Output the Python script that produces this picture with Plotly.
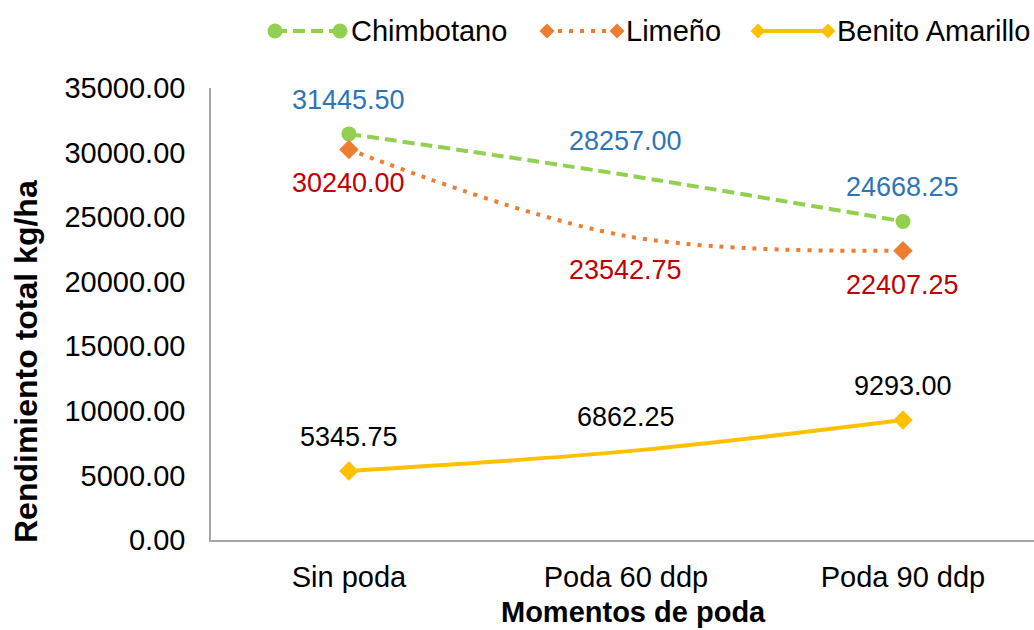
import plotly.graph_objects as go

categories = ["Sin poda", "Poda 60 ddp", "Poda 90 ddp"]
chimbotano = [31445.50, 28257.00, 24668.25]
limeno = [30240.00, 23542.75, 22407.25]
benito = [5345.75, 6862.25, 9293.00]
y_ticks = [0, 5000, 10000, 15000, 20000, 25000, 30000, 35000]

FONT = "Liberation Sans, Arial, sans-serif"

W, H = 1034, 630
L, R, T, B = 211, 0, 88, 90
PW, PH = W - L - R, H - T - B


def px(x):
    return (x - L) / PW


def py(y):
    return (H - B - y) / PH


series = [
    dict(name="Chimbotano", y=chimbotano, color="#92D050", dash="12px,6px",
         symbol="circle", label_color="#2E75B6", shift=34,
         leg=(275, 340, 349)),
    dict(name="Limeño", y=limeno, color="#ED7D31", dash="4px,7px",
         symbol="diamond", label_color="#C00000", shift=-34,
         leg=(547, 617, 624)),
    dict(name="Benito Amarillo", y=benito, color="#FFC000", dash="solid",
         symbol="diamond", label_color="#000000", shift=34,
         leg=(758, 828, 835)),
]

fig = go.Figure()
annotations = []
shapes = []
LEG_Y = 31
for s in series:
    n = len(s["y"])
    sizes = [15 if i in (0, n - 1) else 0 for i in range(n)]
    fig.add_trace(go.Scatter(
        x=categories, y=s["y"], name=s["name"], mode="lines+markers",
        line=dict(color=s["color"], width=4, dash=s["dash"], shape="spline", smoothing=1),
        marker=dict(symbol=s["symbol"], size=sizes, color=s["color"], opacity=1,
                    line=dict(width=0)),
        showlegend=False,
    ))
    for c, v in zip(categories, s["y"]):
        annotations.append(dict(
            x=c, y=v, xref="x", yref="y", text=f"{v:.2f}", showarrow=False,
            yshift=s["shift"], font=dict(family=FONT, size=27, color=s["label_color"]),
        ))
    # custom legend entry (styling only)
    x0, x1, xt = s["leg"]
    shapes.append(dict(type="line", xref="paper", yref="paper",
                       x0=px(x0), x1=px(x1), y0=py(LEG_Y), y1=py(LEG_Y),
                       line=dict(color=s["color"], width=4, dash=s["dash"])))
    r = 7.5
    for xc in (x0, x1):
        if s["symbol"] == "circle":
            shapes.append(dict(type="circle", xref="paper", yref="paper",
                               x0=px(xc - r), x1=px(xc + r), y0=py(LEG_Y + r), y1=py(LEG_Y - r),
                               fillcolor=s["color"], line=dict(width=0)))
        else:
            path = (f"M {px(xc)},{py(LEG_Y - r)} L {px(xc + r)},{py(LEG_Y)} "
                    f"L {px(xc)},{py(LEG_Y + r)} L {px(xc - r)},{py(LEG_Y)} Z")
            shapes.append(dict(type="path", xref="paper", yref="paper", path=path,
                               fillcolor=s["color"], line=dict(width=0)))
    annotations.append(dict(x=px(xt), y=py(LEG_Y), xref="paper", yref="paper",
                            xanchor="left", yanchor="middle", text=s["name"], showarrow=False,
                            font=dict(family=FONT, size=29, color="#000000")))

# axis titles (positioned as in the reference)
annotations.append(dict(x=px(26), y=py(362), xref="paper", yref="paper",
                        xanchor="center", yanchor="middle", textangle=-90,
                        text="<b>Rendimiento total kg/ha</b>", showarrow=False,
                        font=dict(family=FONT, size=32, color="#000000")))
annotations.append(dict(x=px(633), y=py(612), xref="paper", yref="paper",
                        xanchor="center", yanchor="middle",
                        text="<b>Momentos de poda</b>", showarrow=False,
                        font=dict(family=FONT, size=29, color="#000000")))

fig.update_layout(
    width=W, height=H,
    margin=dict(l=L, r=R, t=T, b=B),
    paper_bgcolor="white", plot_bgcolor="white",
    font=dict(family=FONT, size=29, color="#000000"),
    showlegend=False,
    annotations=annotations,
    shapes=shapes,
    xaxis=dict(
        range=[-0.498, 2.473], showline=True, linecolor="#A6A6A6", linewidth=1.5,
        showgrid=False, zeroline=False, ticks="", ticklabelstandoff=10,
        tickfont=dict(family=FONT, size=29, color="#000000"),
    ),
    yaxis=dict(
        range=[0, 35000], tickvals=y_ticks, tickformat=".2f",
        showline=True, linecolor="#A6A6A6", linewidth=1.5,
        showgrid=False, zeroline=False, ticks="", ticklabelstandoff=18,
        tickfont=dict(family=FONT, size=29, color="#000000"),
    ),
)

fig.write_html("out.html")
